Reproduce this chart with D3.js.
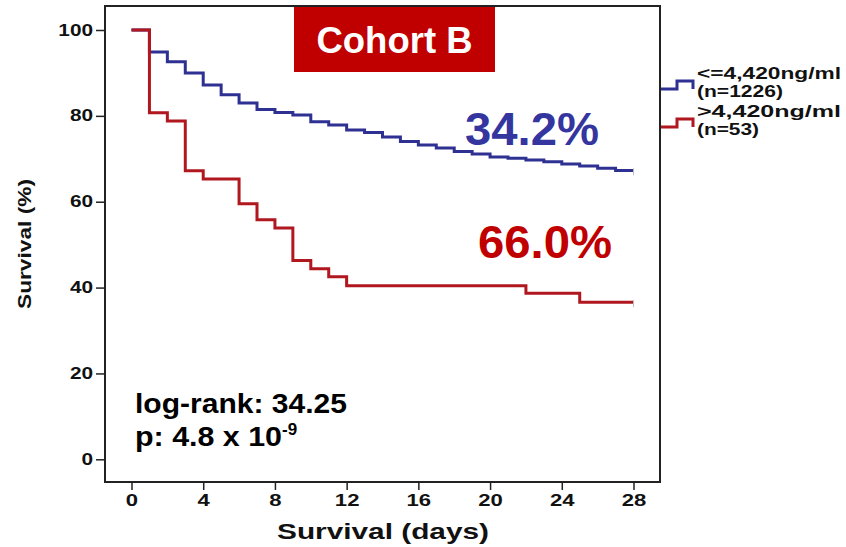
<!DOCTYPE html>
<html>
<head>
<meta charset="utf-8">
<title>Cohort B survival</title>
<script type="text/javascript" src="https://d3js.org/d3.v7.js"></script>
<style>
  body { margin: 0; background: #fff; }
  text { font-family: Arial, "Liberation Sans", sans-serif; font-weight: bold; }
</style>
</head>
<body>
<script type="text/javascript">
const width = 846;
const height = 547;

// data
const xTicks = [0, 4, 8, 12, 16, 20, 24, 28];
const yTicks = [0, 20, 40, 60, 80, 100];

const lowDays = [0, 1, 2, 3, 4, 5, 6, 7, 8, 9, 10, 11, 12, 13, 14, 15, 16, 17, 18, 19, 20, 21, 22, 23, 24, 25, 26, 27, 28];
const lowSurv = [100, 94.9, 92.6, 90.0, 87.2, 84.9, 83.0, 81.5, 80.8, 80.2, 78.6, 77.9, 76.7, 76.1, 75.1, 74.0, 73.2, 72.5, 71.7, 71.1, 70.4, 70.1, 69.7, 69.3, 68.8, 68.3, 67.8, 67.3, 67.3];

const highDays = [0, 1, 2, 3, 4, 6, 7, 8, 9, 10, 11, 12, 22, 25, 28];
const highSurv = [100, 80.7, 78.8, 67.2, 65.3, 59.5, 55.8, 53.9, 46.3, 44.4, 42.5, 40.4, 38.7, 36.6, 36.6];

const groups = ["<=4,420ng/ml", ">4,420ng/ml"];
const groupN = ["(n=1226)", "(n=53)"];
const mortality = ["34.2%", "66.0%"];

const blue = "#2e3092";
const red = "#b0171f";

const svg = d3.select("body")
    .append("svg")
    .attr("width", width)
    .attr("height", height);

const x = d3.scaleLinear().domain([0, 28]).range([131.5, 633.5]);
const y = d3.scaleLinear().domain([0, 100]).range([459.3, 30]);

// text in the original is stretched sideways, so widen it a bit
const wide = 1.3;
function stretch(sel, size) {
    sel.each(function() {
        const t = d3.select(this);
        const n = t.text().length;
        t.attr("textLength", n * size * 0.556 * wide)
         .attr("lengthAdjust", "spacingAndGlyphs");
    });
}

// frame
const frameL = 105, frameR = 660, frameT = 6, frameB = 482;
svg.append("rect")
    .attr("x", frameL).attr("y", frameT)
    .attr("width", frameR - frameL).attr("height", frameB - frameT)
    .attr("fill", "none").attr("stroke", "#222").attr("stroke-width", 2);

// axes
const yAxis = svg.append("g")
    .attr("transform", `translate(${frameL},0)`)
    .call(d3.axisLeft(y).tickValues(yTicks).tickSize(9).tickSizeOuter(0).tickPadding(3));
yAxis.select(".domain").remove();
yAxis.selectAll("line").attr("stroke", "#222").attr("stroke-width", 1.5);
yAxis.selectAll("text").attr("font-size", 16).attr("fill", "#111")
    .attr("font-family", "Arial, 'Liberation Sans', sans-serif")
    .call(stretch, 16);

const xAxis = svg.append("g")
    .attr("transform", `translate(0,${frameB})`)
    .call(d3.axisBottom(x).tickValues(xTicks).tickSize(8).tickSizeOuter(0).tickPadding(4));
xAxis.select(".domain").remove();
xAxis.selectAll("line").attr("stroke", "#222").attr("stroke-width", 1.5);
xAxis.selectAll("text").attr("font-size", 17).attr("fill", "#111")
    .attr("font-family", "Arial, 'Liberation Sans', sans-serif")
    .call(stretch, 17);

svg.append("text")
    .attr("x", 383).attr("y", 539)
    .attr("text-anchor", "middle")
    .attr("font-size", 22).attr("fill", "#111")
    .attr("textLength", 212).attr("lengthAdjust", "spacingAndGlyphs")
    .text("Survival (days)");

svg.append("text")
    .attr("transform", "translate(31,244) rotate(-90)")
    .attr("text-anchor", "middle")
    .attr("font-size", 19).attr("fill", "#111")
    .attr("textLength", 130).attr("lengthAdjust", "spacingAndGlyphs")
    .text("Survival (%)");

// curves
const line = d3.line()
    .x(d => x(d[0]))
    .y(d => y(d[1]))
    .curve(d3.curveStepAfter);

const curves = [
    { days: lowDays, surv: lowSurv, color: blue },
    { days: highDays, surv: highSurv, color: red }
];

curves.forEach(c => {
    const pts = c.days.map((d, i) => [d, c.surv[i]]);
    svg.append("path")
        .attr("d", line(pts))
        .attr("fill", "none")
        .attr("stroke", c.color)
        .attr("stroke-width", 3);
    const last = pts[pts.length - 1];
    svg.append("line")
        .attr("x1", x(last[0])).attr("x2", x(last[0]))
        .attr("y1", y(last[1]) - 2).attr("y2", y(last[1]) + 5)
        .attr("stroke", "#bbb").attr("stroke-width", 1);
});

// title box
svg.append("rect")
    .attr("x", 294).attr("y", 7)
    .attr("width", 201).attr("height", 65)
    .attr("fill", "#c00000");
svg.append("text")
    .attr("x", 394.5).attr("y", 53)
    .attr("text-anchor", "middle")
    .attr("font-size", 36).attr("fill", "#fff")
    .attr("textLength", 156).attr("lengthAdjust", "spacingAndGlyphs")
    .text("Cohort B");

// mortality labels
svg.append("text")
    .attr("x", 465).attr("y", 145)
    .attr("font-size", 46).attr("fill", "#3535a0")
    .attr("textLength", 134).attr("lengthAdjust", "spacingAndGlyphs")
    .text(mortality[0]);
svg.append("text")
    .attr("x", 478).attr("y", 258)
    .attr("font-size", 46).attr("fill", "#c00000")
    .attr("textLength", 134).attr("lengthAdjust", "spacingAndGlyphs")
    .text(mortality[1]);

// stats
svg.append("text")
    .attr("x", 135).attr("y", 413)
    .attr("font-size", 28).attr("fill", "#000")
    .attr("textLength", 212).attr("lengthAdjust", "spacingAndGlyphs")
    .text("log-rank: 34.25");
const pText = svg.append("text")
    .attr("x", 135).attr("y", 446)
    .attr("font-size", 28).attr("fill", "#000");
pText.append("tspan")
    .attr("textLength", 147).attr("lengthAdjust", "spacingAndGlyphs")
    .text("p: 4.8 x 10");
pText.append("tspan").attr("dy", -11).attr("font-size", 17).text("-9");

// legend
const legY = [89, 127];
const legColors = [blue, red];
legY.forEach((ly, i) => {
    const p = d3.path();
    p.moveTo(frameR + 1, ly);
    p.lineTo(frameR + 17, ly);
    p.lineTo(frameR + 17, ly - 8);
    p.lineTo(frameR + 33, ly - 8);
    p.lineTo(frameR + 33, ly);
    svg.append("path")
        .attr("d", p.toString())
        .attr("fill", "none")
        .attr("stroke", legColors[i])
        .attr("stroke-width", 3);
    svg.append("text")
        .attr("x", frameR + 37).attr("y", ly - 10)
        .attr("font-size", 16).attr("fill", "#111")
        .attr("textLength", 144).attr("lengthAdjust", "spacingAndGlyphs")
        .text(groups[i]);
    svg.append("text")
        .attr("x", frameR + 37).attr("y", ly + 8)
        .attr("font-size", 16).attr("fill", "#111")
        .attr("textLength", i === 0 ? 86 : 62).attr("lengthAdjust", "spacingAndGlyphs")
        .text(groupN[i]);
});
</script>
</body>
</html>
